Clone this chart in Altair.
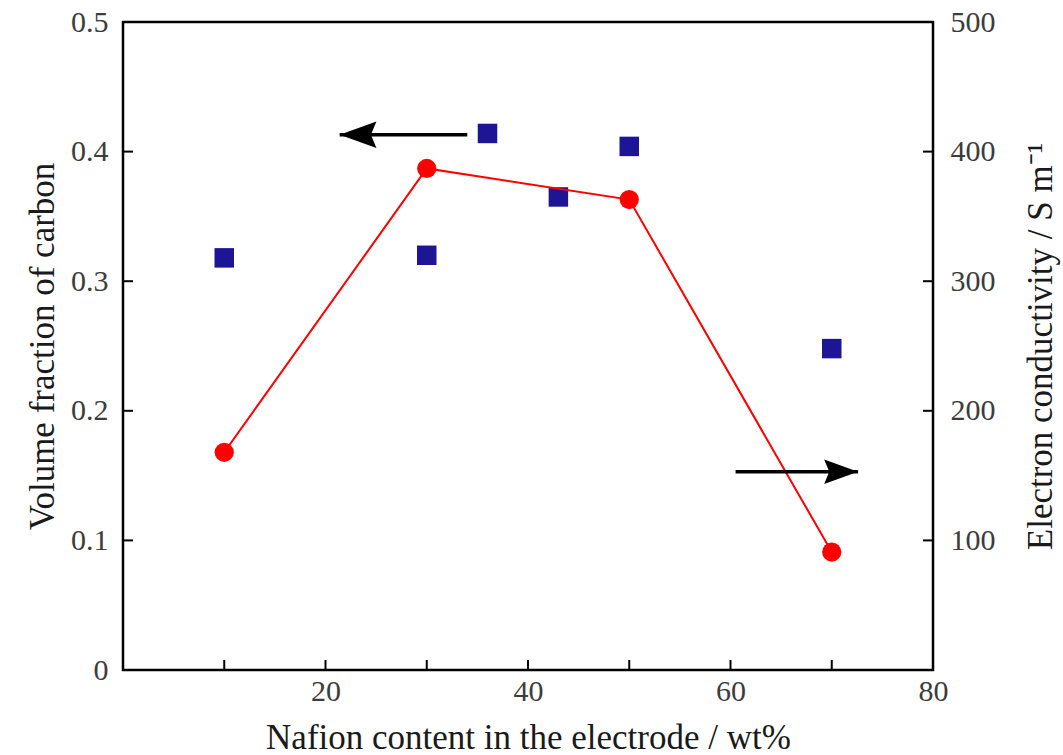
import altair as alt
import pandas as pd

# ---- data ----
sq_x = [10, 30, 36, 43, 50, 70]
sq_y = [0.318, 0.320, 0.414, 0.365, 0.404, 0.248]          # volume fraction of carbon (left axis)
ci_x = [10, 30, 50, 70]
ci_y = [168, 387, 363, 91]                                  # electron conductivity (right axis)

x_ticks = [10, 20, 30, 40, 50, 60, 70]
x_labels = [20, 40, 60, 80]
left_ticks = [0.1, 0.2, 0.3, 0.4]
left_labels = [0, 0.1, 0.2, 0.3, 0.4, 0.5]
right_ticks = [100, 200, 300, 400]
right_labels = [100, 200, 300, 400, 500]

arrow_start = [34.0, 60.5]
arrow_end = [21.4, 72.6]
arrow_y = [0.413, 0.153]
arrow_dir = ["left", "right"]

W, H = 810, 648
FONT = "Liberation Serif"

x_scale = alt.Scale(domain=[0, 80], nice=False, zero=False)
yl_scale = alt.Scale(domain=[0, 0.5], nice=False)
yr_scale = alt.Scale(domain=[0, 500], nice=False)

x_axis = alt.Axis(values=x_labels, title="Nafion content in the electrode / wt%",
                  labelFlush=False, labelPadding=6, titlePadding=14)

def X(field):
    return alt.X(field, scale=x_scale, axis=x_axis)

sq_df = pd.DataFrame({"x": sq_x, "y": sq_y})
ci_df = pd.DataFrame({"x": ci_x, "y": ci_y})
arr_df = pd.DataFrame({"x1": arrow_start, "x2": arrow_end, "y": arrow_y, "dir": arrow_dir})

squares = alt.Chart(sq_df).mark_square(size=380, color="#1d1496", opacity=1).encode(
    x=X("x:Q"),
    y=alt.Y("y:Q", scale=yl_scale,
            axis=alt.Axis(orient="left", values=left_labels, title="Volume fraction of carbon",
                          labelExpr="datum.value == 0 ? '0' : format(datum.value, '.1f')",
                          labelPadding=15, titlePadding=10)),
)

line = alt.Chart(ci_df).mark_line(color="#ff0000", strokeWidth=2).encode(
    x=X("x:Q"),
    y=alt.Y("y:Q", scale=yr_scale,
            axis=alt.Axis(orient="right", values=right_labels,
                          title="Electron conductivity / S m\u207b\u00b9",
                          titleAngle=270, titleBaseline="top",
                          labelPadding=17, titlePadding=28)),
)
pts = alt.Chart(ci_df).mark_circle(size=370, color="#ff0000", opacity=1).encode(
    x=X("x:Q"),
    y=alt.Y("y:Q", scale=yr_scale),
)
red = alt.layer(line, pts)

xt = alt.Chart(pd.DataFrame({"x": x_ticks})).mark_rule(color="black", strokeWidth=2).encode(
    x=X("x:Q"), y=alt.value(H), y2=alt.value(H - 10))
ylt = alt.Chart(pd.DataFrame({"y": left_ticks})).mark_rule(color="black", strokeWidth=2).encode(
    y=alt.Y("y:Q", scale=yl_scale, axis=None), x=alt.value(0), x2=alt.value(10))
yrt = alt.Chart(pd.DataFrame({"y": right_ticks})).mark_rule(color="black", strokeWidth=2).encode(
    y=alt.Y("y:Q", scale=yr_scale, axis=None), x=alt.value(W - 10), x2=alt.value(W))

arrow_lines = alt.Chart(arr_df).mark_rule(color="black", strokeWidth=3.5).encode(
    x=X("x1:Q"), x2="x2:Q",
    y=alt.Y("y:Q", scale=yl_scale, axis=None))
head_left = alt.Chart(arr_df).transform_filter("datum.dir == 'left'").mark_point(
    shape="M0,0 L2,-0.72 L1.7,0 L2,0.72 Z", size=1350, filled=True, color="black",
    opacity=1, strokeWidth=0).encode(
    x=X("x2:Q"), y=alt.Y("y:Q", scale=yl_scale, axis=None))
head_right = alt.Chart(arr_df).transform_filter("datum.dir == 'right'").mark_point(
    shape="M0,0 L-2,-0.72 L-1.7,0 L-2,0.72 Z", size=1150, filled=True, color="black",
    opacity=1, strokeWidth=0).encode(
    x=X("x2:Q"), y=alt.Y("y:Q", scale=yl_scale, axis=None))

chart = alt.layer(
    squares, red, xt, ylt, yrt, arrow_lines, head_left, head_right
).resolve_scale(y="independent").properties(
    width=W, height=H,
    autosize=alt.AutoSizeParams(type="none"),
    padding={"left": 123, "top": 22, "right": 130, "bottom": 85},
    background="white",
).configure_view(
    stroke="black", strokeWidth=2.5
).configure_axis(
    domain=False, grid=False, ticks=False,
    labelFont=FONT, labelFontSize=30, labelColor="#3c3c3c",
    titleFont=FONT, titleFontSize=35, titleFontWeight="normal", titleColor="#1a1a1a",
)

chart.save("out.html", embed_options={"renderer": "svg", "actions": False})
